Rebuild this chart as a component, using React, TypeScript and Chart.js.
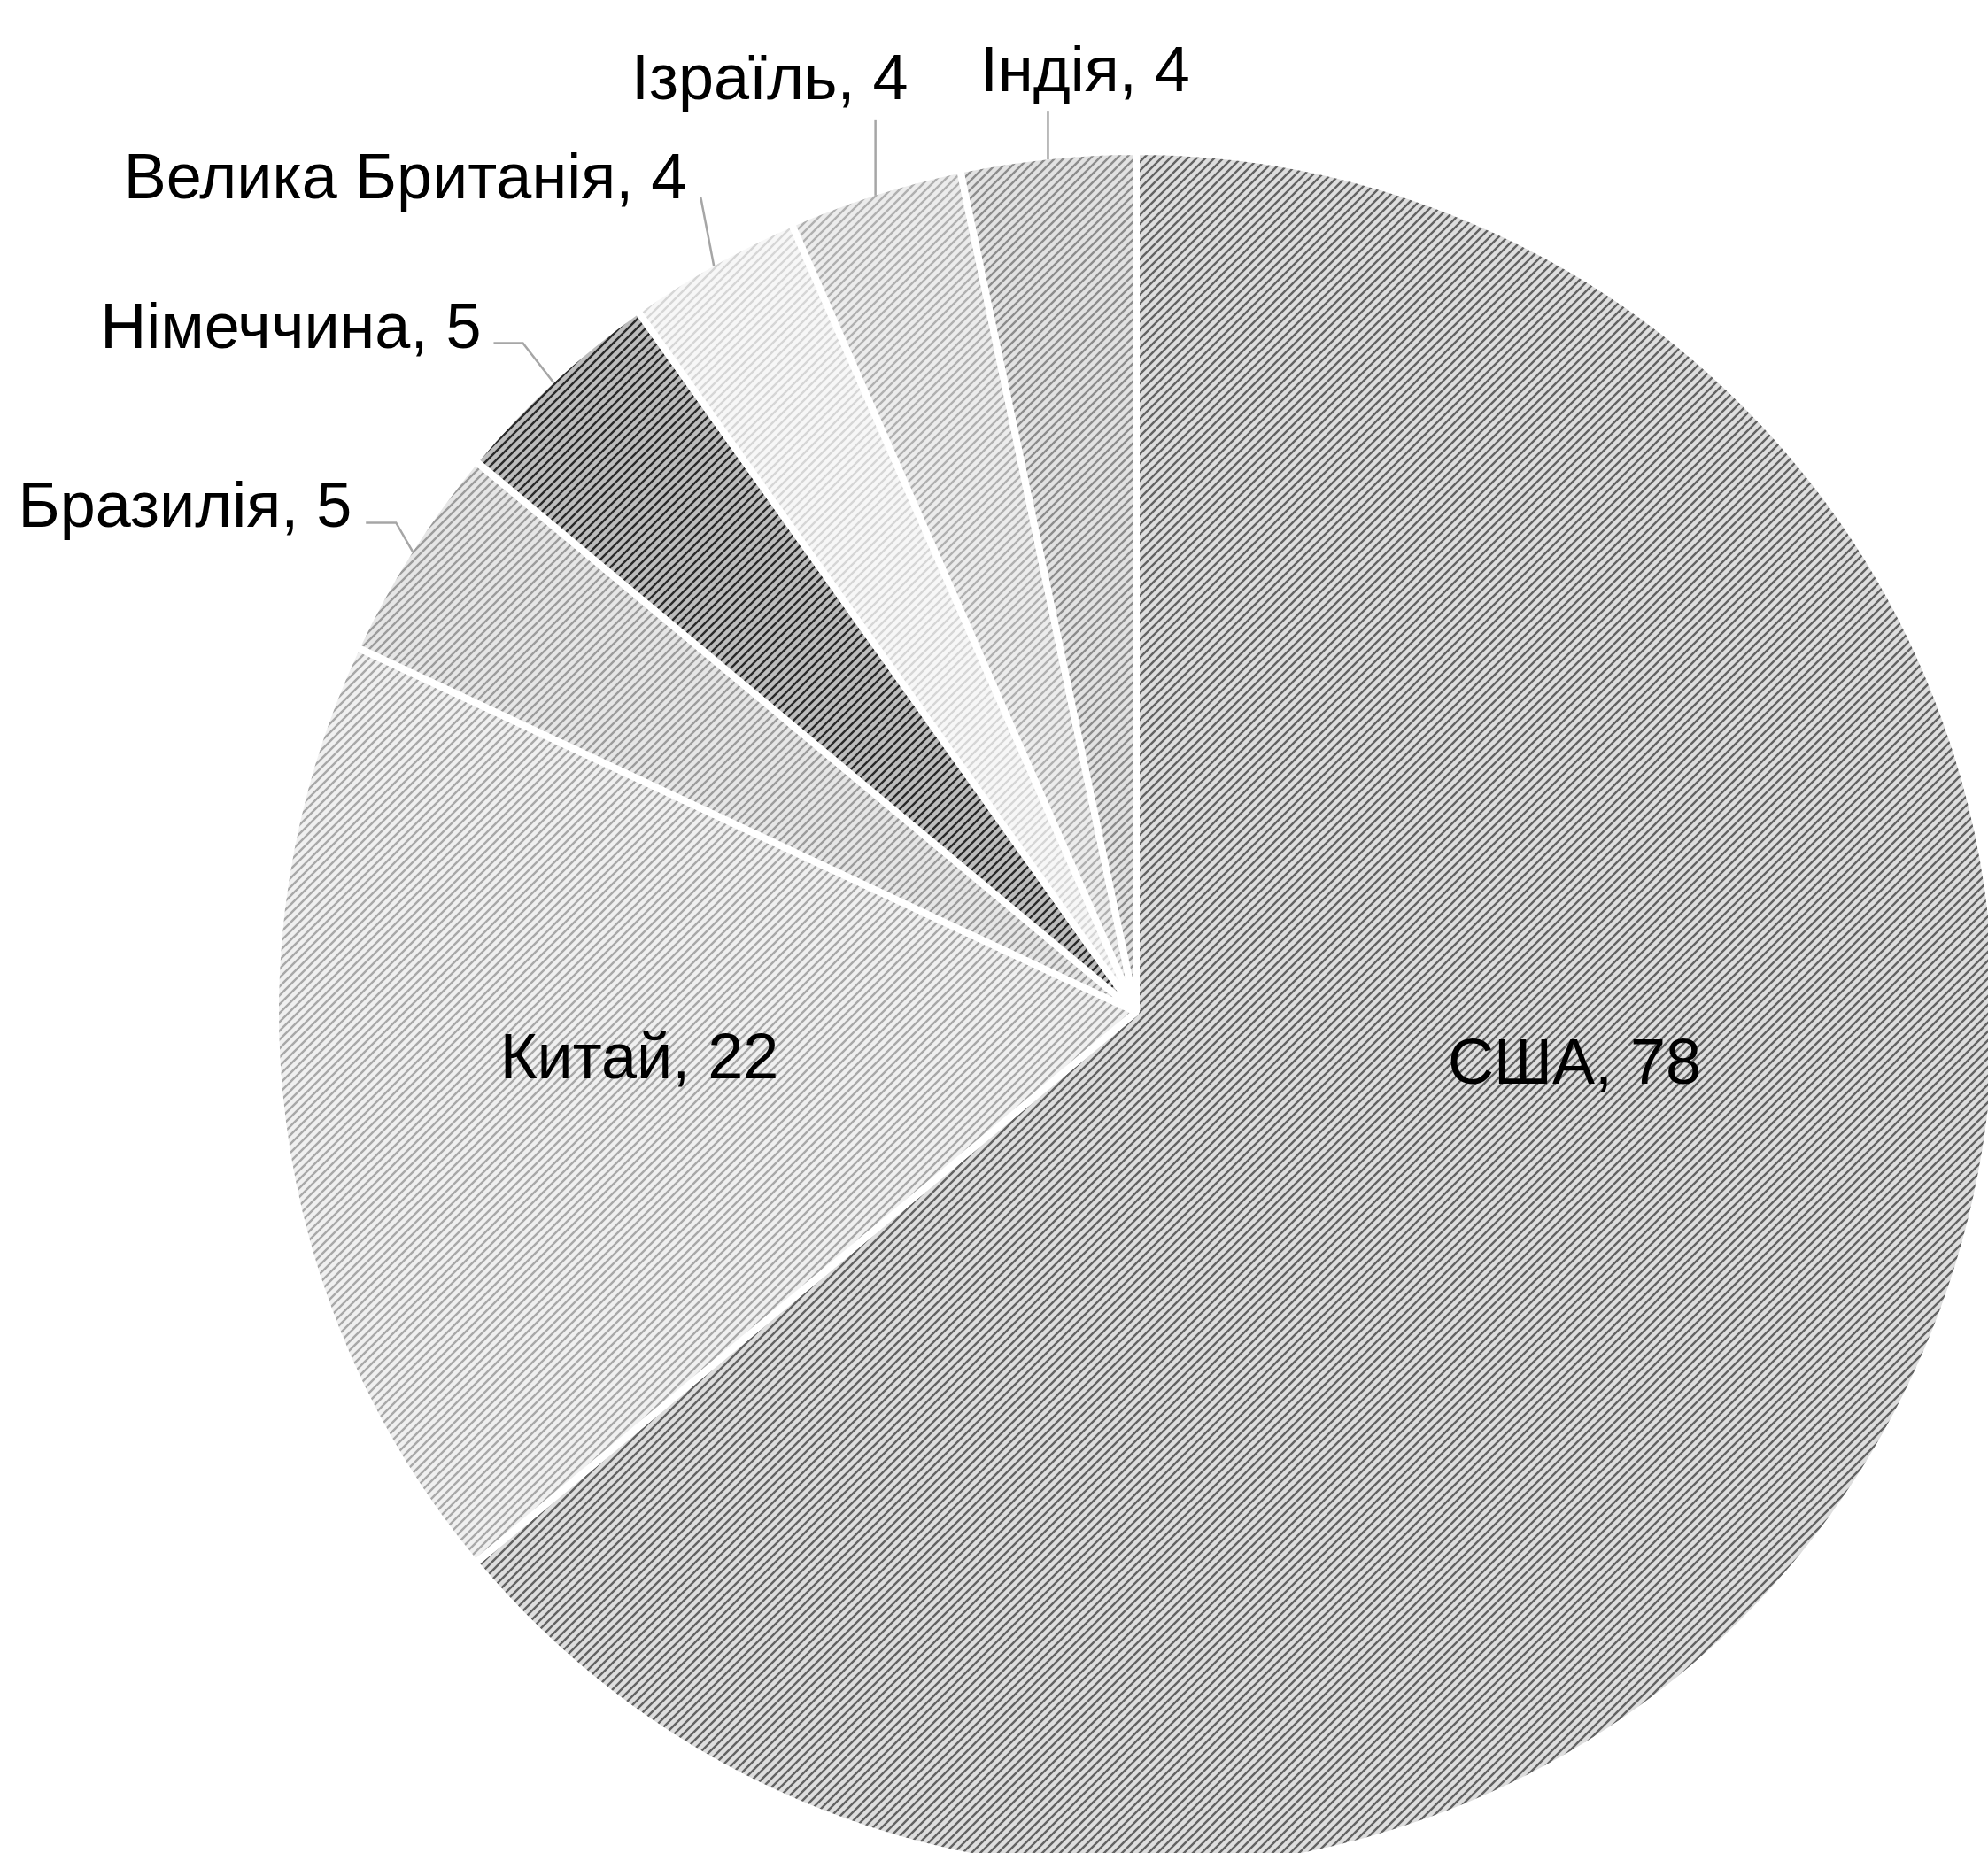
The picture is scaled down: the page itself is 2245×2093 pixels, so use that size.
import React, { useEffect, useRef } from 'react';
import { Chart, registerables } from 'chart.js';

Chart.register(...registerables);

// ---- data ----
const countries = ['США', 'Китай', 'Бразилія', 'Німеччина', 'Велика Британія', 'Ізраїль', 'Індія'];
const counts = [78, 22, 5, 5, 4, 4, 4];

// ---- hatch styles (background / ink) ----
const hatchBg = ['#dedede', '#f0f0f0', '#e6e6e6', '#bdbdbd', '#f7f7f7', '#ececec', '#e2e2e2'];
const hatchInk = ['#636363', '#a8a8a8', '#9c9c9c', '#2a2a2a', '#d6d6d6', '#b0b0b0', '#8c8c8c'];

// ---- label layout (text offsets, leader lines) ----
type LabelLayout =
  | { kind: 'inside'; dx: number; dy: number }
  | { kind: 'outside'; line: number[][]; tx: number; ty: number; align: CanvasTextAlign };

const labelLayout: LabelLayout[] = [
  { kind: 'inside', dx: 495, dy: 61 },
  { kind: 'inside', dx: -561, dy: 55 },
  { kind: 'outside', line: [[-19, -33], [-53, -33]], tx: -69, ty: -28, align: 'right' },
  { kind: 'outside', line: [[-35, -45], [-68, -45]], tx: -82, ty: -40, align: 'right' },
  { kind: 'outside', line: [[-15, -78]], tx: -31, ty: -77, align: 'right' },
  { kind: 'outside', line: [[0, -86]], tx: 37, ty: -109, align: 'right' },
  { kind: 'outside', line: [[0, -55]], tx: 42, ty: -77, align: 'center' },
];

const FONT = '72px "Liberation Sans", Arial, sans-serif';

function makeHatch(bg: string, ink: string): CanvasPattern | string {
  const s = 10;
  const c = document.createElement('canvas');
  c.width = s;
  c.height = s;
  const g = c.getContext('2d');
  if (!g) return bg;
  g.fillStyle = bg;
  g.fillRect(0, 0, s, s);
  g.strokeStyle = ink;
  g.lineWidth = 2.4;
  g.lineCap = 'square';
  g.beginPath();
  g.moveTo(0, s);
  g.lineTo(s, 0);
  g.moveTo(-2, 2);
  g.lineTo(2, -2);
  g.moveTo(s - 2, s + 2);
  g.lineTo(s + 2, s - 2);
  g.stroke();
  const p = g.createPattern(c, 'repeat');
  return p || bg;
}

const labelPlugin = {
  id: 'pieLabels',
  afterDatasetsDraw(chart: any) {
    const ctx: CanvasRenderingContext2D = chart.ctx;
    const meta = chart.getDatasetMeta(0);
    const data = chart.data.datasets[0].data as number[];
    const labels = chart.data.labels as string[];
    ctx.save();
    ctx.font = FONT;
    ctx.fillStyle = '#000000';
    meta.data.forEach((arc: any, i: number) => {
      const lay = labelLayout[i];
      const text = `${labels[i]}, ${data[i]}`;
      const { x, y, startAngle, endAngle, outerRadius } = arc.getProps(
        ['x', 'y', 'startAngle', 'endAngle', 'outerRadius'],
        true
      );
      if (lay.kind === 'inside') {
        ctx.textAlign = 'center';
        ctx.textBaseline = 'middle';
        ctx.fillText(text, x + lay.dx, y + lay.dy);
        return;
      }
      const mid = (startAngle + endAngle) / 2;
      const r = outerRadius - 4;
      const ex = x + Math.cos(mid) * r;
      const ey = y + Math.sin(mid) * r;
      ctx.strokeStyle = '#a6a6a6';
      ctx.lineWidth = 2.5;
      ctx.beginPath();
      ctx.moveTo(ex, ey);
      lay.line.forEach((pt) => ctx.lineTo(ex + pt[0], ey + pt[1]));
      ctx.stroke();
      ctx.textAlign = lay.align;
      ctx.textBaseline = 'alphabetic';
      ctx.fillText(text, ex + lay.tx, ey + lay.ty);
    });
    ctx.restore();
  },
};

export default function App() {
  const ref = useRef<HTMLCanvasElement | null>(null);

  useEffect(() => {
    if (!ref.current) return;
    const patterns = counts.map((_, i) => makeHatch(hatchBg[i], hatchInk[i]));
    const chart = new Chart(ref.current, {
      type: 'pie',
      data: {
        labels: countries,
        datasets: [
          {
            data: counts,
            backgroundColor: patterns as any,
            borderColor: '#ffffff',
            borderWidth: 8,
            clip: false as any,
          },
        ],
      },
      options: {
        responsive: false,
        animation: false,
        radius: 972,
        layout: { padding: { left: 321, right: 0, top: 193, bottom: 0 } },
        plugins: {
          legend: { display: false },
          tooltip: { enabled: false },
        },
        events: [],
      } as any,
      plugins: [labelPlugin],
    });
    return () => chart.destroy();
  }, []);

  return (
    <div style={{ position: 'absolute', left: 0, top: 0, width: 2245, height: 2093, background: '#ffffff' }}>
      <canvas ref={ref} width={2245} height={2093} style={{ width: 2245, height: 2093, display: 'block' }} />
    </div>
  );
}
